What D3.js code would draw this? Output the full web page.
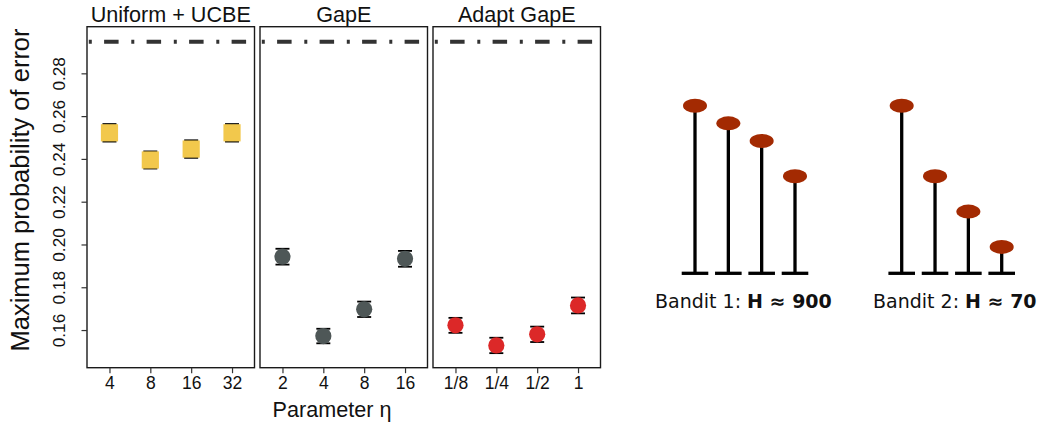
<!DOCTYPE html>
<html><head><meta charset="utf-8">
<script src="https://cdn.jsdelivr.net/npm/d3@7"></script>
<style>html,body{margin:0;padding:0;background:#fff;}svg{display:block;}</style>
</head><body>
<svg id="chart" width="1040" height="427"></svg>
<script>
// ---- data ----
const panelTitles = ["Uniform + UCBE", "GapE", "Adapt GapE"];
const uniformEta = ["4", "8", "16", "32"];
const gapeEta = ["2", "4", "8", "16"];
const adaptEta = ["1/8", "1/4", "1/2", "1"];
const uniformErr = [0.2522, 0.2395, 0.2446, 0.2522];
const gapeErr = [0.1943, 0.1572, 0.1697, 0.1933];
const adaptErr = [0.1622, 0.1528, 0.1580, 0.1715];
const uniformCI = [0.0041, 0.0040, 0.0041, 0.0041];
const gapeCI = [0.0037, 0.0034, 0.0036, 0.0037];
const adaptCI = [0.0035, 0.0036, 0.0036, 0.0037];
const boundValue = 0.2948;
const yTicks = [0.16, 0.18, 0.20, 0.22, 0.24, 0.26, 0.28];
const bandit1Means = [0.5, 0.45, 0.4, 0.3];
const bandit2Means = [0.5, 0.3, 0.2, 0.1];
const bandit1Label = ["Bandit 1: ", "H \u2248 900"];
const bandit2Label = ["Bandit 2: ", "H \u2248 70"];

// ---- layout ----
const svg = d3.select("#chart");
const pTop = 26.7, pBottom = 367.7, x0 = 87, pw = 167.5, gap = 5.5;
const y = d3.scaleLinear().domain([0.1424, 0.3018]).range([pBottom, pTop]);
const font = "'Liberation Sans', Arial, sans-serif";

const panels = [
  {title: panelTitles[0], eta: uniformEta, err: uniformErr, ci: uniformCI, shape: "square", color: "#F2C84C"},
  {title: panelTitles[1], eta: gapeEta, err: gapeErr, ci: gapeCI, shape: "circle", color: "#4E5757"},
  {title: panelTitles[2], eta: adaptEta, err: adaptErr, ci: adaptCI, shape: "circle", color: "#DC2828"}
];

panels.forEach((p, i) => {
  const left = x0 + i * (pw + gap);
  const x = d3.scalePoint().domain(p.eta).range([left, left + pw]).padding(0.55);
  const g = svg.append("g");
  const cid = "clip" + i;
  svg.append("clipPath").attr("id", cid).append("rect")
    .attr("x", left).attr("y", pTop).attr("width", pw).attr("height", pBottom - pTop);
  g.append("line").attr("clip-path", `url(#${cid})`)
    .attr("x1", left + 1.8).attr("x2", left + pw)
    .attr("y1", y(boundValue)).attr("y2", y(boundValue))
    .attr("stroke", "#333").attr("stroke-width", 4)
    .attr("stroke-dasharray", "3,12.3,14.5,12.7");
  p.err.forEach((v, k) => {
    const cx = x(p.eta[k]);
    g.append("line").attr("x1", cx).attr("x2", cx)
      .attr("y1", y(v - p.ci[k])).attr("y2", y(v + p.ci[k]))
      .attr("stroke", "#000").attr("stroke-width", 1.6);
    [v - p.ci[k], v + p.ci[k]].forEach(e => {
      g.append("line").attr("x1", cx - 7).attr("x2", cx + 7)
        .attr("y1", y(e)).attr("y2", y(e))
        .attr("stroke", "#000").attr("stroke-width", 1.8);
    });
  });
  p.err.forEach((v, k) => {
    const cx = x(p.eta[k]);
    if (p.shape === "square") {
      g.append("rect").attr("x", cx - 8.6).attr("y", y(v) - 8.6)
        .attr("width", 17.2).attr("height", 17.2).attr("fill", p.color);
    } else {
      g.append("circle").attr("cx", cx).attr("cy", y(v)).attr("r", 8.1).attr("fill", p.color);
    }
  });
  g.append("rect").attr("x", left).attr("y", pTop).attr("width", pw).attr("height", pBottom - pTop)
    .attr("fill", "none").attr("stroke", "#1a1a1a").attr("stroke-width", 1.4);
  g.append("text").attr("x", left + pw / 2).attr("y", 21.7).attr("text-anchor", "middle")
    .attr("font-family", font).attr("font-size", 21.6).attr("fill", "#111").text(p.title);
  const xa = g.append("g").attr("transform", `translate(0,${pBottom})`)
    .call(d3.axisBottom(x).tickSize(5.5).tickPadding(5));
  xa.select(".domain").remove();
  xa.selectAll("line").attr("stroke", "#333").attr("stroke-width", 1.2);
  xa.selectAll("text").attr("font-family", font).attr("font-size", 17.5).attr("fill", "#111")
    .attr("dy", null).attr("y", 21.6);
});

const ya = svg.append("g").attr("transform", `translate(${x0},0)`)
  .call(d3.axisLeft(y).tickValues(yTicks).tickFormat(d3.format(".2f")).tickSize(5.5));
ya.select(".domain").remove();
ya.selectAll("line").attr("stroke", "#333").attr("stroke-width", 1.2);
ya.selectAll("text").attr("font-family", font).attr("font-size", 17.2).attr("fill", "#111")
  .attr("x", null).attr("dy", null).attr("text-anchor", "middle")
  .attr("transform", "translate(-22,0) rotate(-90)");

svg.append("text").attr("transform", "translate(29,190) rotate(-90)").attr("text-anchor", "middle")
  .attr("font-family", font).attr("font-size", 25.5).attr("fill", "#111")
  .text("Maximum probability of error");
svg.append("text").attr("x", 332).attr("y", 417).attr("text-anchor", "middle")
  .attr("font-family", font).attr("font-size", 21.6).attr("fill", "#111")
  .text("Parameter \u03b7");

const by = d3.scaleLinear().domain([0, 0.5]).range([282.2, 105.7]);
const baseY = 273.3;
function drawBandit(means, xStart, label, labelX) {
  const bx = d3.scalePoint().domain(d3.range(means.length)).range([xStart, xStart + 100]);
  const g = svg.append("g");
  means.forEach((m, k) => {
    const cx = bx(k);
    g.append("line").attr("x1", cx - 13.3).attr("x2", cx + 13.3).attr("y1", baseY).attr("y2", baseY)
      .attr("stroke", "#000").attr("stroke-width", 3.3);
    g.append("line").attr("x1", cx).attr("x2", cx).attr("y1", by(m)).attr("y2", baseY)
      .attr("stroke", "#000").attr("stroke-width", 3.3);
    g.append("ellipse").attr("cx", cx).attr("cy", by(m)).attr("rx", 12).attr("ry", 7)
      .attr("fill", "#A32A02");
  });
  const t = g.append("text").attr("x", labelX).attr("y", 308)
    .attr("font-family", "'DejaVu Sans', sans-serif").attr("font-size", 19).attr("fill", "#111");
  t.append("tspan").text(label[0]);
  t.append("tspan").attr("font-weight", "bold").text(label[1]);
}
drawBandit(bandit1Means, 695, bandit1Label, 655);
drawBandit(bandit2Means, 901.7, bandit2Label, 873);
</script>
</body></html>
